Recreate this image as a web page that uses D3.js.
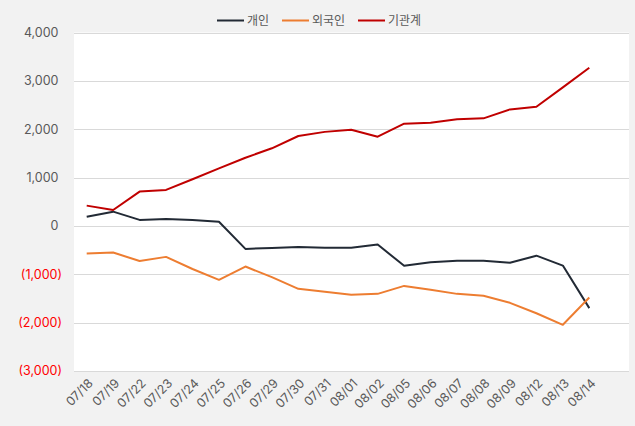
<!DOCTYPE html>
<html lang="ko">
<head>
    <meta charset="UTF-8">
    <title>투자자별 순매수 누적</title>
    <style>
        body {
            margin: 0;
            background: #f2f2f2;
        }
        svg text {
            font-family: Inter, "Noto Sans CJK KR", sans-serif;
        }
    </style>
</head>
<body>
<div id="chart"></div>

<script src="https://d3js.org/d3.v7.min.js"></script>
<script>
    // data
    const dates = ["07/18", "07/19", "07/22", "07/23", "07/24", "07/25", "07/26", "07/29", "07/30", "07/31",
        "08/01", "08/02", "08/05", "08/06", "08/07", "08/08", "08/09", "08/12", "08/13", "08/14"];
    const individual = [190, 295, 125, 145, 125, 85, -475, -455, -435, -450,
        -450, -385, -825, -750, -720, -720, -760, -615, -820, -1700];
    const foreign = [-570, -550, -725, -640, -890, -1115, -840, -1060, -1300, -1360,
        -1425, -1405, -1240, -1320, -1405, -1445, -1590, -1805, -2045, -1480];
    const institution = [420, 330, 710, 745, 965, 1190, 1410, 1605, 1860, 1945,
        1990, 1845, 2115, 2135, 2205, 2225, 2410, 2465, 2865, 3270];
    const yTicks = [4000, 3000, 2000, 1000, 0, -1000, -2000, -3000];

    const series = [
        { name: "개인", values: individual, color: "#222a35" },
        { name: "외국인", values: foreign, color: "#ed7d31" },
        { name: "기관계", values: institution, color: "#c00000" }
    ];

    const W = 635, H = 426;
    const plot = { left: 74, right: 629, top: 32.5, bottom: 371 };

    const svg = d3.select("#chart").append("svg")
        .attr("width", W)
        .attr("height", H);

    svg.append("rect")
        .attr("width", W).attr("height", H)
        .attr("fill", "#f2f2f2");

    svg.append("rect")
        .attr("x", plot.left).attr("y", plot.top)
        .attr("width", plot.right - plot.left)
        .attr("height", plot.bottom - plot.top)
        .attr("fill", "#ffffff");

    const x = d3.scalePoint().domain(dates).range([86.7, 589.3]);
    const y = d3.scaleLinear().domain([-3000, 4000]).range([plot.bottom, plot.top]);

    const fmt = d3.format(",");

    // gridlines
    svg.append("g")
        .selectAll("line")
        .data(yTicks)
        .join("line")
        .attr("x1", plot.left).attr("x2", plot.right)
        .attr("y1", d => Math.round(y(d)) + 0.5)
        .attr("y2", d => Math.round(y(d)) + 0.5)
        .attr("stroke", "#d9d9d9")
        .attr("stroke-width", 1);

    // y tick labels (accounting style, negatives in red parentheses)
    svg.append("g")
        .selectAll("text")
        .data(yTicks)
        .join("text")
        .attr("x", d => d < 0 ? 62 : 58.5)
        .attr("y", d => y(d))
        .attr("dy", "0.35em")
        .attr("text-anchor", "end")
        .attr("font-size", 12.5)
        .attr("fill", d => d < 0 ? "#ff0000" : "#595959")
        .text(d => d < 0 ? `(${fmt(-d)})` : fmt(d));

    // x tick labels
    svg.append("g")
        .selectAll("text")
        .data(dates)
        .join("text")
        .attr("transform", d => `translate(${x(d) + 4}, 381) rotate(-45)`)
        .attr("text-anchor", "end")
        .attr("dy", "0.35em")
        .attr("font-size", 12.5)
        .attr("fill", "#595959")
        .text(d => d);

    const line = d3.line()
        .x((d, i) => x(dates[i]))
        .y(d => y(d));

    svg.append("g")
        .selectAll("path")
        .data(series)
        .join("path")
        .attr("d", d => line(d.values))
        .attr("fill", "none")
        .attr("stroke", d => d.color)
        .attr("stroke-width", 2)
        .attr("stroke-linejoin", "round");

    // legend
    const legendX = [217, 282, 358];
    const legend = svg.append("g")
        .selectAll("g")
        .data(series)
        .join("g")
        .attr("transform", (d, i) => `translate(${legendX[i]}, 20.5)`);

    legend.append("line")
        .attr("x1", 0).attr("x2", 27)
        .attr("stroke", d => d.color)
        .attr("stroke-width", 2);

    legend.append("text")
        .attr("x", 30)
        .attr("dy", "0.35em")
        .attr("font-size", 12)
        .attr("fill", "#595959")
        .text(d => d.name);
</script>
</body>
</html>
